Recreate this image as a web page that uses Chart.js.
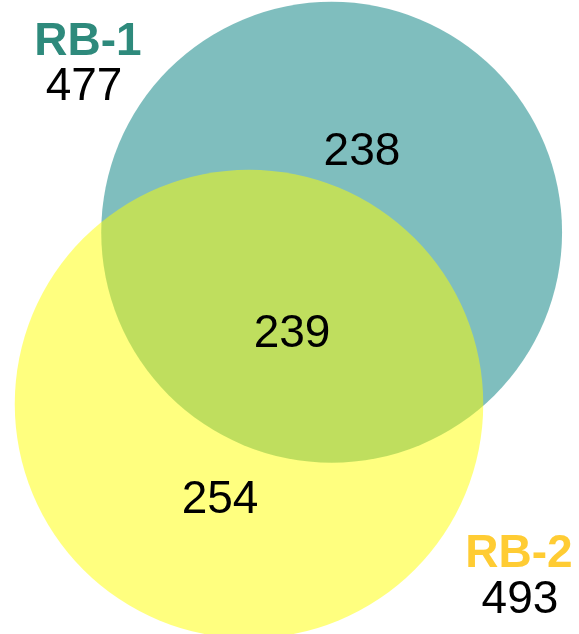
<!DOCTYPE html>
<html>
<head>
<meta charset="utf-8">
<script src="https://cdn.jsdelivr.net/npm/chart.js@4/dist/chart.umd.min.js"></script>
<style>
  html, body { margin: 0; padding: 0; background: #fff; }
  #wrap { width: 579px; height: 634px; }
</style>
</head>
<body>
<div id="wrap"><canvas id="venn" width="579" height="634"></canvas></div>
<script>
// set names, set totals and region counts (only-1, both, only-2)
const setNames = ['RB-1', 'RB-2']
const setTotals = [477, 493]
const regionCounts = [238, 239, 254]

// axis window (data units, area = count)
const X_MIN = -13.316, X_MAX = 17.647
const Y_MIN = -12.299, Y_MAX = 21.604
const CANVAS_W = 579

// 면적 = 개수 가 되도록 반지름 계산
const radii = setTotals.map(n => Math.sqrt(n / Math.PI))
const pxPerUnit = CANVAS_W / (X_MAX - X_MIN)

function lensArea(d, r1, r2) {
  if (d >= r1 + r2) return 0
  const a1 = r1 * r1 * Math.acos((d * d + r1 * r1 - r2 * r2) / (2 * d * r1))
  const a2 = r2 * r2 * Math.acos((d * d + r2 * r2 - r1 * r1) / (2 * d * r2))
  const k = Math.sqrt((-d + r1 + r2) * (d + r1 - r2) * (d - r1 + r2) * (d + r1 + r2))
  return a1 + a2 - k / 2
}

// 겹치는 면적이 교집합 개수와 같아지는 중심 거리 (bisection)
function solveDistance(r1, r2, overlap) {
  let lo = Math.abs(r1 - r2) + 1e-6, hi = r1 + r2
  for (let i = 0; i < 80; i++) {
    const mid = (lo + hi) / 2
    if (lensArea(mid, r1, r2) > overlap) lo = mid
    else hi = mid
  }
  return (lo + hi) / 2
}

const dist = solveDistance(radii[0], radii[1], regionCounts[1])
const angle = 64.3 * Math.PI / 180
const centers = [
  { x: dist * Math.cos(angle), y: dist * Math.sin(angle), r: radii[0] * pxPerUnit },
  { x: 0, y: 0, r: radii[1] * pxPerUnit },
]

// text anchors (data units) : [text, x, y, color, bold]
const textLabels = [
  [setNames[0], -8.61, 18.66, '#2e8a7c', true],
  [String(setTotals[0]), -8.82, 16.26, '#000', false],
  [String(regionCounts[0]), 6.04, 12.78, '#000', false],
  [String(regionCounts[1]), 2.30, 3.05, '#000', false],
  [String(regionCounts[2]), -1.55, -5.83, '#000', false],
  [setNames[1], 14.44, -8.72, '#ffcc33', true],
  [String(setTotals[1]), 14.49, -11.18, '#000', false],
]

const FONT = "'Liberation Sans', Arial, sans-serif"

const labelPlugin = {
  id: 'vennLabels',
  afterDatasetsDraw(chart) {
    const { ctx, scales } = chart
    ctx.save()
    ctx.textAlign = 'center'
    ctx.textBaseline = 'alphabetic'
    textLabels.forEach(([txt, x, y, color, bold]) => {
      ctx.font = (bold ? 'bold ' : '') + '46px ' + FONT
      ctx.fillStyle = color
      ctx.fillText(txt, scales.x.getPixelForValue(x), scales.y.getPixelForValue(y))
    })
    ctx.restore()
  },
}

new Chart(document.getElementById('venn'), {
  type: 'bubble',
  data: {
    datasets: [
      {
        label: setNames[0],
        data: [centers[0]],
        backgroundColor: 'rgba(0,125,125,0.5)',
        borderWidth: 0,
        clip: false,
        order: 2,
      },
      {
        label: setNames[1],
        data: [centers[1]],
        backgroundColor: 'rgba(255,255,0,0.5)',
        borderWidth: 0,
        clip: false,
        order: 1,
      },
    ],
  },
  options: {
    responsive: false,
    animation: false,
    events: [],
    layout: { padding: 0, autoPadding: false },
    plugins: { legend: { display: false }, tooltip: { enabled: false } },
    scales: {
      x: { type: 'linear', display: false, min: X_MIN, max: X_MAX },
      y: { type: 'linear', display: false, min: Y_MIN, max: Y_MAX },
    },
  },
  plugins: [labelPlugin],
})
</script>
</body>
</html>
